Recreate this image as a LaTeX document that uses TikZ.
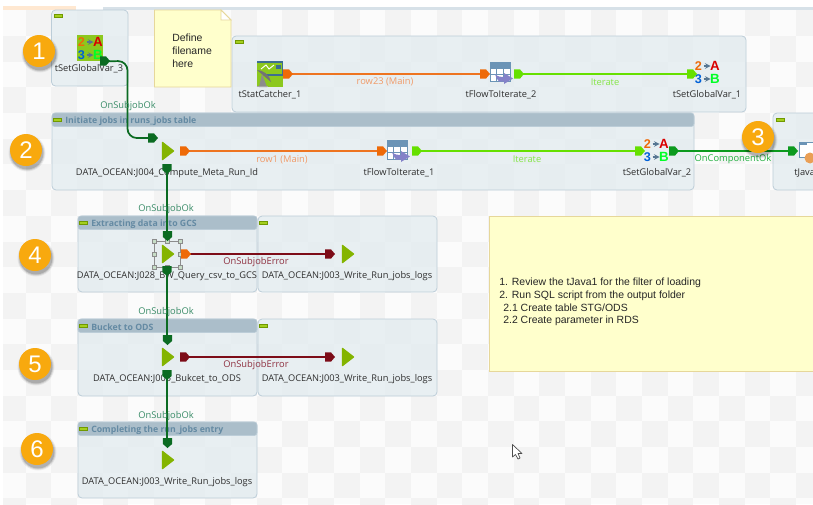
\documentclass[tikz,border=0pt]{standalone}
\usepackage{fontspec}
\setmainfont{Liberation Sans}
\newfontfamily\uifont{Open Sans}
\usetikzlibrary{calc}
\definecolor{boxfill}{HTML}{E2EBF0}
\definecolor{boxline}{HTML}{BCCDD8}
\definecolor{headfill}{HTML}{ABBECA}
\definecolor{headtext}{HTML}{648AA3}
\definecolor{minbar}{HTML}{A4CF1E}
\definecolor{notefill}{HTML}{FFFFCC}
\definecolor{noteline}{HTML}{E6D79A}
\definecolor{jobgreen}{HTML}{84B400}
\definecolor{okgreen}{HTML}{0B6B22}
\definecolor{oktext}{HTML}{3A8C68}
\definecolor{compgreen}{HTML}{0C9A1E}
\definecolor{comptext}{HTML}{22B040}
\definecolor{rowline}{HTML}{EE7420}
\definecolor{rowtip}{HTML}{EE6A08}
\definecolor{rowtext}{HTML}{F09A68}
\definecolor{iterline}{HTML}{66E000}
\definecolor{itertext}{HTML}{86E648}
\definecolor{errline}{HTML}{7D0C18}
\definecolor{errtext}{HTML}{8E3040}
\definecolor{badge}{HTML}{F8A90E}
\definecolor{tblue}{HTML}{6B94B6}
\definecolor{tpurple}{HTML}{8482C8}
\definecolor{statgreen}{HTML}{8CC81E}
\definecolor{statblue}{HTML}{3E6E92}
\definecolor{chkA}{HTML}{FBFBFB}
\definecolor{chkB}{HTML}{F3F3F3}
\tikzset{
  x=0.75pt,y=-0.75pt,
  subjob/.style={draw=boxline,line width=0.6pt,fill=boxfill,fill opacity=0.75,rounded corners=3pt},
  headbar/.style={draw=boxline,line width=0.5pt,fill=headfill,rounded corners=2pt},
  headtitle/.style={anchor=west,inner sep=0,yshift=-1pt,text=headtext,font=\uifont\bfseries\fontsize{6.55}{8}\selectfont},
  minbtn/.style={draw=jobgreen!85!black,line width=0.3pt,fill=minbar},
  lab/.style={inner sep=0,yshift=-1.4pt,text=black!82,font=\uifont\fontsize{6.95}{8}\selectfont},
  conlab/.style={inner sep=0,yshift=-1pt,font=\uifont\fontsize{7}{8}\selectfont},
  notetxt/.style={inner sep=0,anchor=west,yshift=-1pt,text=black!85,font=\fontsize{7.85}{10}\selectfont},
  anchorbox/.style={inner sep=0,minimum width=#1,minimum height=#1},
  anchorbox/.default=12pt,
  tipshape/.pic={\fill[pic actions] (0,-4.6)--(6,-4.6)--(10,0)--(6,4.6)--(0,4.6)--cycle;},
  tipd/.pic={\fill[pic actions] (-4.6,0)--(-4.6,6)--(0,10)--(4.6,6)--(4.6,0)--cycle;},
  gv/.pic={
    \node[inner sep=0,text=rowtip,font=\bfseries\fontsize{9.5}{10}\selectfont] at (-8.5,-6) {2};
    \node[inner sep=0,text=red!85!black,font=\bfseries\fontsize{10}{10}\selectfont] at (8,-6) {A};
    \node[inner sep=0,text=blue!55!cyan!85!black,font=\bfseries\fontsize{9.5}{10}\selectfont] at (-8.5,7) {3};
    \node[inner sep=0,text=green!85!cyan,font=\bfseries\fontsize{10}{10}\selectfont] at (8,7) {B};
    \foreach \yy in {-6,7}{\draw[tblue!80!black,line width=0.8pt,-stealth] (-3.5,\yy)--(3.5,\yy);}
  },
  flow/.pic={
    \fill[white] (-11,-10) rectangle (9,9);
    \fill[tblue] (-11,-10) rectangle (9,-4);
    \draw[tblue,line width=0.7pt] (-11,-10) rectangle (9,9);
    \draw[tblue,line width=0.6pt] (-11,-4)--(9,-4) (-11,2.5)--(9,2.5) (-4.5,-10)--(-4.5,9) (2,-10)--(2,9);
    \fill[tpurple] (-6,2) .. controls (-3,5) and (0,5) .. (3,5) -- (3,1) -- (12,6.5) -- (3,12) -- (3,9.5) -- (-2,9.5) .. controls (-4,8) and (-5,5) .. (-6,2) -- cycle;
  },
  stat/.pic={
    \fill[statgreen] (-13,-13) rectangle (13,13);
    \fill[statblue] (-13,-13) rectangle (13,-11);
    \draw[statblue,line width=0.9pt] (-4,-12) -- (12.5,-12) -- (12.5,1) -- (-4,1);
    \fill[statblue] (6,-9.5) rectangle (10.5,-5.5);
    \draw[white,line width=0.7pt] (-9,-5)--(-4,-9)--(-1,-5)--(4,-9);
    \fill[black!55] (-13,-4) .. controls (-7,-4) and (0,1) .. (1,8) -- cycle;
    \fill[black!45] (-8,0) -- (-11,13) -- (-3,13) -- cycle;
    \fill[black!35] (-13,13) rectangle (-2,12);
  },
  javaicon/.pic={
    \fill[white] (-9,-8) rectangle (7,7);
    \draw[tblue,line width=0.7pt] (-9,-8) rectangle (7,7);
    \fill[tblue] (-9,-8) rectangle (-1,-5);
    \fill[orange!55!brown!75!white] (2,8) circle[radius=5.5];
  },
  badgecirc/.style={circle,fill=badge,draw=none,minimum size=24pt,inner sep=0,text=white,font=\fontsize{18}{20}\selectfont},
}
\newcommand{\shadowat}[1]{\foreach \rr/\oo in {18.5/0.06,17.5/0.10,16.5/0.16}{\fill[black,opacity=\oo] ($(#1)+(1,3)$) circle[radius=\rr];}}
\begin{document}
\begin{tikzpicture}
\useasboundingbox (0,0) rectangle (813,504);
\clip (0,0) rectangle (813,504);
\fill[white] (0,0) rectangle (813,504);
% checker background
\begin{scope}
\clip (3,10) rectangle (813,504);
\fill[chkA] (0,10) rectangle (813,504);
\foreach \i in {0,...,31}{\foreach \j in {0,...,19}{
  \pgfmathtruncatemacro{\pp}{mod(\i+\j,2)}
  \ifnum\pp=1 \fill[chkB] ({\i*25.68},{10.4+\j*25.68}) rectangle ({(\i+1)*25.68},{10.4+(\j+1)*25.68});\fi
}}
\end{scope}
\fill[orange!18] (3,6) rectangle (76,9.5);
\fill[boxline!60] (103,7) rectangle (813,9.5);
% subjob boxes
\path[subjob] (51.5,10) rectangle (128,86);
\path[subjob] (232,36) rectangle (746,112);
\path[subjob] (52,113) rectangle (694,190);
\path[subjob] (773,113) rectangle (830,190);
\path[subjob] (78,216) rectangle (257,292);
\path[subjob] (258,216) rectangle (437,292);
\path[subjob] (78,319) rectangle (257,396);
\path[subjob] (258,319) rectangle (437,396);
\path[subjob] (78,422) rectangle (257,498);
% header bars
\path[headbar] (52,113) rectangle (694,126.5);
\path[headbar] (78,216) rectangle (257,229.5);
\path[headbar] (78,319) rectangle (257,332.5);
\path[headbar] (78,422) rectangle (257,435.5);
% minimise buttons
\foreach \bx/\by in {54/14,235/40,53/118,776/118,79/221,259/221,79/324,259/324,79/427}{
  \path[minbtn] (\bx,\by) rectangle ++(8,3);
}
% titles
\node[headtitle] (t2) at (65,119.5) {Initiate jobs in runs\_jobs table};
\node[headtitle] (t4) at (91,222.5) {Extracting data into GCS};
\node[headtitle] (t5) at (91,325.5) {Bucket to ODS};
\node[headtitle] (t6) at (91,428.5) {Completing the run\_jobs entry};
% notes
\path[fill=notefill,draw=noteline,line width=0.6pt] (154.5,10)--(221,10)--(231,20)--(231,87)--(154.5,87)--cycle;
\path[fill=white,draw=noteline,line width=0.6pt] (221,10)--(231,20)--(221,20)--cycle;
\node[notetxt] (n1a) at (172,36) {Define};
\node[notetxt] (n1b) at (172,49) {filename};
\node[notetxt] (n1c) at (172,62) {here};
\path[fill=notefill,draw=noteline,line width=0.6pt] (489,216) rectangle (830,371);
\node[notetxt] (n2a) at (499,281) {1. Review the tJava1 for the filter of loading};
\node[notetxt] (n2b) at (499,294.5) {2. Run SQL script from the output folder};
\node[notetxt] (n2c) at (503,306.5) {2.1 Create table STG/ODS};
\node[notetxt] (n2d) at (503,319) {2.2 Create parameter in RDS};
% components
\node[anchorbox=19.5pt] (gv3) at (90,48) {};
\fill[statgreen] (gv3.south west) rectangle (gv3.north east);
\pic at (gv3) {gv};
\node[anchorbox=19pt] (st) at (270,74) {};
\pic at (st) {stat};
\node[anchorbox=17pt] (fl2) at (501,72) {};
\pic at (fl2) {flow};
\node[anchorbox=17pt] (gv1) at (707,72) {};
\pic at (gv1) {gv};
\node[anchorbox=17pt] (fl1) at (398,150) {};
\pic at (fl1) {flow};
\node[anchorbox=17pt] (gv2) at (656,150) {};
\pic at (gv2) {gv};
\node[anchorbox=15pt] (ja) at (808,150) {};
\pic at (ja) {javaicon};
\foreach \nm/\cx/\cy in {j2/168/151,j4/168/254,j5/168/357,j6/168/460,je4/348/254,je5/348/357}{
  \node[anchorbox=10pt] (\nm) at (\cx,\cy) {};
  \path[fill=jobgreen,draw=jobgreen,line width=1pt,line join=round] ($(\nm)+(-5.5,-8.5)$)--($(\nm)+(5.5,0)$)--($(\nm)+(-5.5,8.5)$)--cycle;
}
% component labels
\node[lab] (l1) at (89,67) {tSetGlobalVar\_3};
\node[lab] (l2) at (270,93) {tStatCatcher\_1};
\node[lab] (l3) at (501,93) {tFlowToIterate\_2};
\node[lab] (l4) at (707,93) {tSetGlobalVar\_1};
\node[lab] (l5) at (167,171) {DATA\_OCEAN:J004\_Compute\_Meta\_Run\_Id};
\node[lab] (l6) at (399,171) {tFlowToIterate\_1};
\node[lab] (l7) at (657,171) {tSetGlobalVar\_2};
\node[lab,anchor=west] (l8) at (794,171) {tJava};
\node[lab] (l9) at (167,274) {DATA\_OCEAN:J028\_BW\_Query\_csv\_to\_GCS};
\node[lab] (l10) at (347,274) {DATA\_OCEAN:J003\_Write\_Run\_jobs\_logs};
\node[lab] (l11) at (167,377) {DATA\_OCEAN:J005\_Bukcet\_to\_ODS};
\node[lab] (l12) at (347,377) {DATA\_OCEAN:J003\_Write\_Run\_jobs\_logs};
\node[lab] (l13) at (167,480) {DATA\_OCEAN:J003\_Write\_Run\_jobs\_logs};
% selection handles
\draw[black!45,line width=0.4pt] (154,241) rectangle (180,267);
\foreach \hx/\hy in {154/241,167/241,180/241,154/254,180/254,154/267,167/267,180/267}{
  \path[fill=green!25!gray!35,draw=black!45,line width=0.3pt] (\hx-2,\hy-2) rectangle (\hx+2,\hy+2);
}
% connectors
\draw[rowline,line width=1.3pt] ($(st.center)+(20,0)$) -- ($(fl2.center)+(-14,2)$);
\pic[rowtip] at (283,74) {tipshape};
\pic[rowtip] at (480,74) {tipshape};
\draw[iterline,line width=1.3pt] ($(fl2.center)+(20,2)$) -- ($(gv1.center)+(-14,2)$);
\pic[iterline] at (514,74) {tipshape};
\pic[iterline] at (687,74) {tipshape};
\draw[rowline,line width=1.3pt] ($(j2.center)+(20,0)$) -- ($(fl1.center)+(-14,1)$);
\pic[rowtip] at (180,151) {tipshape};
\pic[rowtip] at (377,151) {tipshape};
\draw[iterline,line width=1.3pt] ($(fl1.center)+(20,1)$) -- ($(gv2.center)+(-14,1)$);
\pic[iterline] at (412,151) {tipshape};
\pic[iterline] at (635,151) {tipshape};
\draw[compgreen,line width=1.3pt] ($(gv2.center)+(20,1)$) -- ($(ja.center)+(-14,1)$);
\pic[compgreen] at (669,151) {tipshape};
\pic[compgreen] at (788,151) {tipshape};
\draw[okgreen,line width=1.3pt,rounded corners=7pt] (gv3.south east) -- (127.5,61) -- (127.5,138) -- (150,138);
\pic[okgreen] at (100,61) {tipshape};
\pic[okgreen] at (148,138) {tipshape};
\draw[okgreen,line width=1.5pt] (167,170) -- (167,236);
\pic[okgreen] at (167,164) {tipd};
\pic[okgreen] at (167.5,231) {tipd};
\draw[okgreen,line width=1.5pt] (167,272) -- (167,340);
\pic[okgreen] at (167,266) {tipd};
\pic[okgreen] at (167.5,335) {tipd};
\draw[okgreen,line width=1.5pt] (167,376) -- (167,442);
\pic[okgreen] at (167,370) {tipd};
\pic[okgreen] at (167.5,438) {tipd};
\draw[errline,line width=1.3pt] ($(j4.center)+(20,0)$) -- ($(je4.center)+(-16,0)$);
\pic[rowtip] at (181,254) {tipshape};
\pic[errline] at (325,254) {tipshape};
\draw[errline,line width=1.3pt] ($(j5.center)+(20,0)$) -- ($(je5.center)+(-16,0)$);
\pic[errline] at (180,357) {tipshape};
\pic[errline] at (325,357) {tipshape};
% connector labels
\node[conlab,text=oktext] (c1) at (128,105) {OnSubjobOk};
\node[conlab,text=oktext] (c2) at (166,207.5) {OnSubjobOk};
\node[conlab,text=oktext] (c3) at (166,311) {OnSubjobOk};
\node[conlab,text=oktext] (c4) at (166,414.5) {OnSubjobOk};
\node[conlab,text=rowtext] (c5) at (385,80.5) {row23 (Main)};
\node[conlab,text=itertext] (c6) at (605,80.5) {Iterate};
\node[conlab,text=rowtext] (c7) at (282,158) {row1 (Main)};
\node[conlab,text=itertext] (c8) at (527,158) {Iterate};
\node[conlab,text=comptext] (c9) at (733,158) {OnComponentOk};
\node[conlab,text=errtext] (c10) at (256,261) {OnSubjobError};
\node[conlab,text=errtext] (c11) at (256,364) {OnSubjobError};
% numbered badges
\foreach \nm/\cx/\cy/\tx in {b1/39/51/1,b2/26/150/2,b3/758/137/3,b4/35/255/4,b5/35/364/5,b6/37/449/6}{
  \shadowat{\cx,\cy}
  \node[badgecirc] (\nm) at (\cx,\cy) {\tx};
}
% mouse pointer
\path[fill=white,draw=black!70,line width=0.5pt,line join=round] (512.5,444.5)--(512.5,457)--(515.5,454.5)--(518,459)--(520,458)--(518,453.5)--(522,453.5)--cycle;
\end{tikzpicture}
\end{document}
